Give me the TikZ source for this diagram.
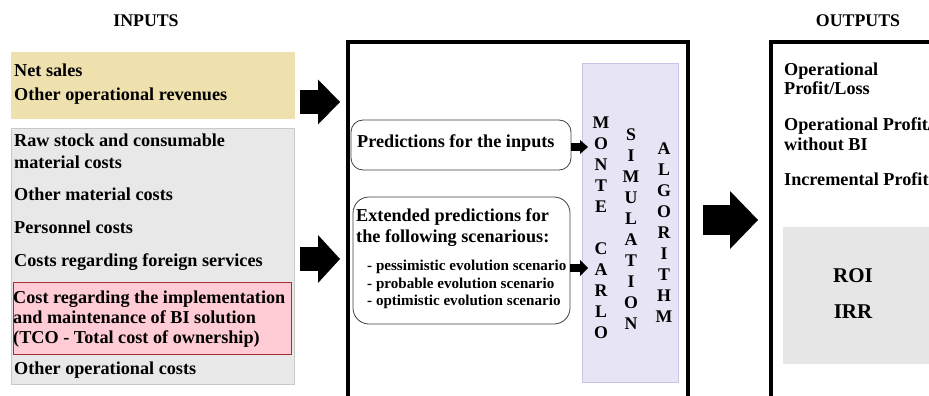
\documentclass[tikz,border=0pt]{standalone}
\usepackage{fontspec}
\setmainfont{Liberation Serif}
\usetikzlibrary{arrows.meta}
\definecolor{revtan}{RGB}{238,225,174}
\definecolor{costgray}{RGB}{232,232,232}
\definecolor{costline}{RGB}{200,200,200}
\definecolor{tcopink}{RGB}{255,203,212}
\definecolor{tcoline}{RGB}{165,45,55}
\definecolor{mclav}{RGB}{231,229,245}
\definecolor{mcline}{RGB}{200,196,230}
\definecolor{outgray}{RGB}{230,230,230}
\begin{document}
\begin{tikzpicture}[x=1pt,y=-1pt,
  txt/.style={anchor=base west,inner sep=0pt,font=\fontsize{18.2pt}{21pt}\selectfont\bfseries},
  smalltxt/.style={txt,font=\fontsize{15.1pt}{17pt}\selectfont\bfseries},
  letter/.style={anchor=base,inner sep=0pt,font=\fontsize{17.8pt}{21pt}\selectfont\bfseries},
  bigtxt/.style={anchor=base,inner sep=0pt,font=\fontsize{21pt}{25pt}\selectfont\bfseries},
  panel/.style n args={3}{draw=#1,fill=#2,line width=#3,inner sep=0pt,outer sep=0pt,anchor=north west},
  frame/.style={draw=black,line width=4pt,inner sep=0pt,outer sep=0pt,anchor=north west},
  bubble/.style={draw=black!75,fill=white,rounded corners=#1,line width=0.8pt,inner sep=0pt,outer sep=0pt,anchor=north west},
  blockarrow/.style n args={3}{line width=#1,-{Triangle[width=#2,length=#3,line width=0pt]}}]
\clip (0,0) rectangle (929,396);

% inputs
\node[letter] (inputs) at (146,27) {INPUTS};
\node[panel={revtan}{revtan}{0pt},minimum width=283pt,minimum height=65pt] (revenues) at (11,53) {};
\node[panel={costline}{costgray}{0.8pt},minimum width=283pt,minimum height=256pt] (costs) at (11,128) {};
\node[panel={tcoline}{tcopink}{0.8pt},minimum width=278pt,minimum height=72pt] (tco) at (13,282) {};
\foreach \y/\t in {77/Net sales,100/Other operational revenues} {
  \node[txt] (rev\y) at (14,\y) {\t};
}
\foreach \y/\t in {146/Raw stock and consumable,168/material costs,200/Other material costs,
  233/Personnel costs,266/Costs regarding foreign services,374/Other operational costs} {
  \node[txt] (cost\y) at (14,\y) {\t};
}
\foreach \y/\t in {303/Cost regarding the implementation,323/and maintenance of BI solution,
  343/(TCO - Total cost of ownership)} {
  \node[txt] (tco\y) at (13,\y) {\t};
}

% monte carlo
\node[frame,minimum width=340pt,minimum height=380pt] (mc) at (347.5,42) {};
\node[panel={mcline}{mclav}{0.8pt},minimum width=96pt,minimum height=319pt] (algo) at (582,63) {};
\node[bubble=12pt,minimum width=220pt,minimum height=50pt] (pred) at (351,120) {};
\node[bubble=16pt,minimum width=217pt,minimum height=127pt] (scen) at (353,197) {};
\node[txt] (predtxt) at (357,147) {Predictions for the inputs};
\node[txt] (scen1) at (356,221) {Extended predictions for};
\node[txt] (scen2) at (356,242) {the following scenarious:};
\foreach \y/\t in {270/- pessimistic evolution scenario,288/- probable evolution scenario,
  305/- optimistic evolution scenario} {
  \node[smalltxt] (case\y) at (367,\y) {\t};
}
\foreach \i/\l in {0/M,1/O,2/N,3/T,4/E,6/C,7/A,8/R,9/L,10/O} {
  \node[letter] (monte\i) at (601,{128+21*\i}) {\l};
}
\foreach \i/\l in {0/S,1/I,2/M,3/U,4/L,5/A,6/T,7/I,8/O,9/N} {
  \node[letter] (simul\i) at (631,{140+21*\i}) {\l};
}
\foreach \i/\l in {0/A,1/L,2/G,3/O,4/R,5/I,6/T,7/H,8/M} {
  \node[letter] (algor\i) at (664,{154+21*\i}) {\l};
}

% outputs
\node[letter] (outputs) at (858,27) {OUTPUTS};
\node[frame,minimum width=200pt,minimum height=380pt] (out) at (771,42) {};
\node[panel={outgray}{outgray}{0pt},minimum width=160pt,minimum height=136pt] (ratios) at (783,227) {};
\foreach \y/\t in {75/Operational,95/{Profit/Loss},130/{Operational Profit/},150/without BI,185/Incremental Profit} {
  \node[txt] (res\y) at (784,\y) {\t};
}
\node[bigtxt] (roi) at (853,282) {ROI};
\node[bigtxt] (irr) at (853,318) {IRR};

% arrows
\coordinate (revout) at (300,102);
\coordinate (mcin1) at (340,102);
\coordinate (costout) at (300,259);
\coordinate (mcin2) at (340,259);
\coordinate (mcout) at (703,220);
\coordinate (outin) at (758,220);
\coordinate (algoin1) at (588,147);
\coordinate (algoin2) at (588,268);
\draw[blockarrow={24pt}{45pt}{22pt}] (revout) -- (mcin1);
\draw[blockarrow={24pt}{48pt}{22pt}] (costout) -- (mcin2);
\draw[blockarrow={30pt}{58pt}{28pt}] (mcout) -- (outin);
\draw[blockarrow={8pt}{14pt}{8pt}] (pred.east |- algoin1) -- (algoin1);
\draw[blockarrow={8pt}{16pt}{8pt}] (scen.east |- algoin2) -- (algoin2);
\end{tikzpicture}
\end{document}
